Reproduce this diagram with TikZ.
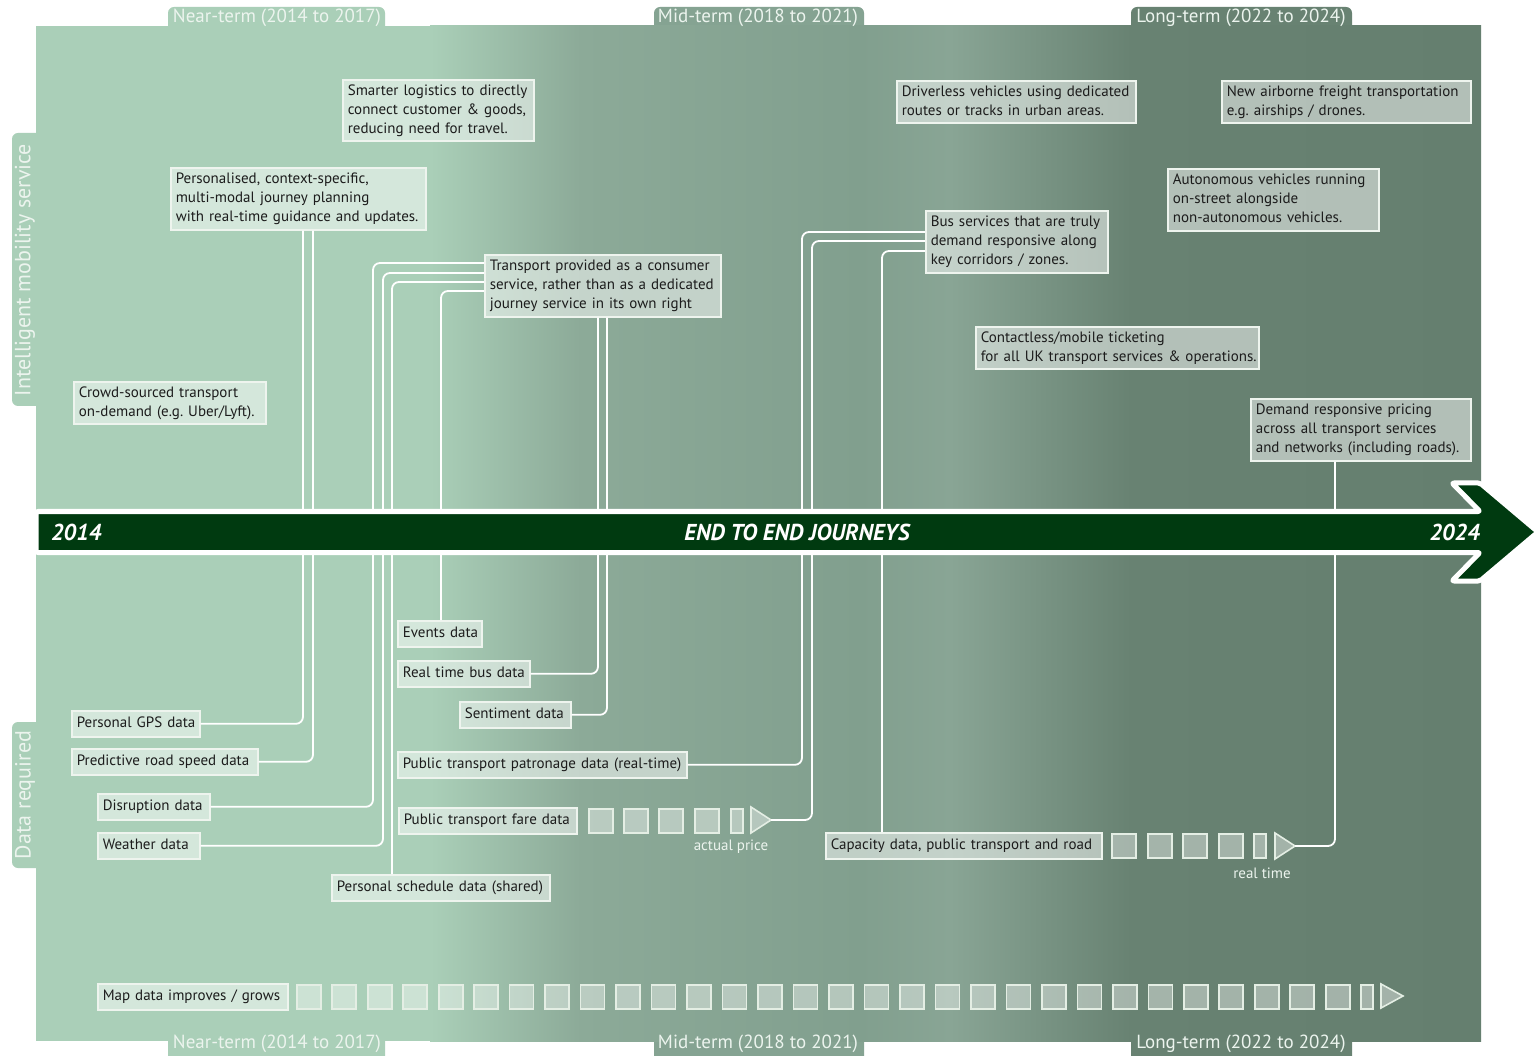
\documentclass[tikz,border=0pt]{standalone}
\usepackage{fontspec}
\setmainfont{PT Sans}
\frenchspacing
\newcommand{\bt}[1]{\makebox[\hsize][l]{\begin{tabular}{@{}l@{}}#1\end{tabular}}}
\definecolor{bgA}{RGB}{170,207,184}
\definecolor{bgB}{RGB}{140,170,152}
\definecolor{bgC}{RGB}{129,159,142}
\definecolor{bgD}{RGB}{137,165,149}
\definecolor{bgE}{RGB}{104,130,114}
\definecolor{bgF}{RGB}{101,127,111}
\definecolor{midtab}{RGB}{133,163,146}
\definecolor{bardark}{RGB}{0,58,16}
\definecolor{boxline}{RGB}{238,244,238}
\definecolor{sqline}{RGB}{228,238,228}
\definecolor{txt}{RGB}{28,28,28}
\definecolor{tabtxt}{RGB}{236,244,238}
\begin{document}
\begin{tikzpicture}[x=1pt,y=-1pt,
  bx/.style={draw=boxline, line width=1.6pt, fill=white, fill opacity=0.5, text opacity=1,
    text=txt, font=\fontsize{15}{19}\selectfont, align=left, inner xsep=5pt, inner ysep=2pt,
    anchor=north west},
  sq/.style={draw=sqline, line width=1.6pt, fill=white, fill opacity=0.4, minimum width=24pt,
    minimum height=24pt, inner sep=0pt, anchor=north west},
  nsq/.style={sq, minimum width=12pt},
  tri/.style={draw=sqline, line width=1.6pt, fill=white, fill opacity=0.4, line join=miter},
  conn/.style={draw=white, line width=1.8pt, rounded corners=7pt},
  tabtext/.style={text=tabtxt, font=\fontsize{19}{21}\selectfont, inner sep=0pt},
  sidetext/.style={text=tabtxt, font=\fontsize{22}{24}\selectfont, inner sep=0pt, rotate=90},
  note/.style={text=tabtxt, font=\fontsize{15}{17}\selectfont, inner sep=0pt},
  bartext/.style={text=white, font=\fontsize{23}{26}\selectfont\bfseries\itshape, inner sep=0pt}
]
\useasboundingbox (0,0) rectangle (1535,1056);
\fill[white] (0,0) rectangle (1535,1056);

% tabs
\fill[bgA, rounded corners=6pt] (168,7) rectangle (385,40);
\fill[midtab, rounded corners=6pt] (654,7) rectangle (864,40);
\fill[bgE, rounded corners=6pt] (1131,7) rectangle (1352,40);
\fill[bgA, rounded corners=6pt] (168,1020) rectangle (385,1070);
\fill[midtab, rounded corners=6pt] (654,1020) rectangle (864,1070);
\fill[bgE, rounded corners=6pt] (1131,1020) rectangle (1352,1070);
\fill[bgA, rounded corners=6pt] (12,133) rectangle (50,406);
\fill[bgA, rounded corners=6pt] (12,722) rectangle (50,868);

% panel
\fill[bgA] (36,26) rectangle (431,1041);
\shade[left color=bgA, right color=bgB] (430,26) rectangle (581,1041);
\shade[left color=bgB, right color=bgC] (580,26) rectangle (861,1041);
\shade[left color=bgC, right color=bgD] (860,26) rectangle (951,1041);
\shade[left color=bgD, right color=bgE] (950,26) rectangle (1131,1041);
\shade[left color=bgE, right color=bgF] (1130,26) rectangle (1481,1041);

% tab texts
\node[tabtext] (t1) at (277,18) {Near-term (2014 to 2017)};
\node[tabtext] (t2) at (758,18) {Mid-term (2018 to 2021)};
\node[tabtext] (t3) at (1241,18) {Long-term (2022 to 2024)};
\node[tabtext] (b1) at (277,1044) {Near-term (2014 to 2017)};
\node[tabtext] (b2) at (758,1044) {Mid-term (2018 to 2021)};
\node[tabtext] (b3) at (1241,1044) {Long-term (2022 to 2024)};
\node[sidetext] (s1) at (25,270) {Intelligent mobility service};
\node[sidetext] (s2) at (25,795) {Data required};

% boxes: top
\node[bx, text width=181pt, minimum height=61pt] (smart) at (342,79)
  {\bt{Smarter logistics to directly\\connect customer \& goods,\\reducing need for travel.}};
\node[bx, text width=245pt, minimum height=62pt] (pers) at (170,167)
  {\bt{Personalised, context-specific,\\multi-modal journey planning\\with real-time guidance and updates.}};
\node[bx, text width=226pt, minimum height=62pt] (trans) at (484,254)
  {\bt{Transport provided as a consumer\\service, rather than as a dedicated\\journey service in its own right}};
\node[bx, text width=182pt, minimum height=42pt] (crowd) at (73,381)
  {\bt{Crowd-sourced transport\\on-demand (e.g. Uber/Lyft).}};
\node[bx, text width=229pt, minimum height=42pt] (driver) at (896,80)
  {\bt{Driverless vehicles using dedicated\\routes or tracks in urban areas.}};
\node[bx, text width=239pt, minimum height=42pt] (air) at (1221,80)
  {\bt{New airborne freight transportation\\e.g. airships / drones.}};
\node[bx, text width=201pt, minimum height=62pt] (auto) at (1167,168)
  {\bt{Autonomous vehicles running\\on-street alongside\\non-autonomous vehicles.}};
\node[bx, text width=172pt, minimum height=62pt] (bus) at (925,210)
  {\bt{Bus services that are truly\\demand responsive along\\key corridors / zones.}};
\node[bx, text width=273pt, minimum height=42pt] (contact) at (975,326)
  {\bt{Contactless/mobile ticketing\\for all UK transport services \& operations.}};
\node[bx, text width=210pt, minimum height=62pt] (pricing) at (1250,398)
  {\bt{Demand responsive pricing\\across all transport services\\and networks (including roads).}};

% boxes: bottom
\node[bx, text width=74pt, minimum height=26pt] (events) at (397,620) {\bt{Events data}};
\node[bx, text width=122pt, minimum height=26pt] (rtbus) at (397,660) {\bt{Real time bus data}};
\node[bx, text width=101pt, minimum height=26pt] (sent) at (459,701) {\bt{Sentiment data}};
\node[bx, text width=118pt, minimum height=26pt] (gps) at (71,710) {\bt{Personal GPS data}};
\node[bx, text width=176pt, minimum height=26pt] (pred) at (71,748) {\bt{Predictive road speed data}};
\node[bx, text width=279pt, minimum height=26pt] (patr) at (397,751) {\bt{Public transport patronage data (real-time)}};
\node[bx, text width=102pt, minimum height=26pt] (disr) at (97,793) {\bt{Disruption data}};
\node[bx, text width=168pt, minimum height=26pt] (fare) at (398,807) {\bt{Public transport fare data}};
\node[bx, text width=92pt, minimum height=26pt] (weather) at (97,832) {\bt{Weather data}};
\node[bx, text width=208pt, minimum height=26pt] (sched) at (331,874) {\bt{Personal schedule data (shared)}};
\node[bx, text width=266pt, minimum height=26pt] (cap) at (825,832) {\bt{Capacity data, public transport and road}};
\node[bx, text width=180pt, minimum height=26pt] (map) at (97,983) {\bt{Map data improves / grows}};

% progress squares
\foreach \x [count=\i] in {588,623,658,694} { \node[sq] (fs\i) at (\x,808) {}; }
\node[nsq, minimum width=12pt] (fs5) at (730,808) {};
\draw[tri] (751,807) -- (771,820) -- (751,833) -- cycle;
\coordinate (fT) at (771,820);
\node[note] (fnote) at (731,847) {actual price};

\foreach \x [count=\i] in {1111,1147,1182,1218} { \node[sq] (cs\i) at (\x,833) {}; }
\node[nsq, minimum width=12pt] (cs5) at (1253,833) {};
\draw[tri] (1275,833) -- (1295,846) -- (1275,859) -- cycle;
\coordinate (cT) at (1295,846);
\node[note] (cnote) at (1262,873) {real time};

\foreach \i in {0,...,29} { \node[sq] (ms\i) at ({296+\i*35.48},984) {}; }
\node[nsq, minimum width=12pt] (msN) at (1360,984) {};
\draw[tri] (1381,984) -- (1403,996) -- (1381,1008) -- cycle;

% helper x positions
\coordinate (xa) at (373,0);
\coordinate (xb) at (383,0);
\coordinate (xc) at (392,0);
\coordinate (xd) at (441,0);
\coordinate (xe) at (802,0);
\coordinate (xf) at (812,0);
\coordinate (xg) at (882,0);

% connectors
\draw[conn] ([xshift=133pt]pers.south west) |- (gps.east);
\draw[conn] ([xshift=143pt]pers.south west) |- (pred.east);
\draw[conn] ([yshift=-9pt]trans.north west) -| (disr.east -| xa) -- (disr.east);
\draw[conn] ([yshift=-19pt]trans.north west) -| (weather.east -| xb) -- (weather.east);
\draw[conn] ([yshift=-28pt]trans.north west) -| (sched.north -| xc);
\draw[conn] ([yshift=-37pt]trans.north west) -| (events.north -| xd);
\draw[conn] ([xshift=114pt]trans.south west) |- (rtbus.east);
\draw[conn] ([xshift=123pt]trans.south west) |- (sent.east);
\draw[conn] ([yshift=-22pt]bus.north west) -| (patr.east -| xe) -- (patr.east);
\draw[conn] ([yshift=-31pt]bus.north west) -| (fT -| xf) -- (fT);
\draw[conn] ([yshift=-41pt]bus.north west) -| (cap.north -| xg);
\draw[conn] ([xshift=85pt]pricing.south west) |- (cT);

% main arrow
\draw[draw=white, line width=5pt, fill=bardark, line join=round, rounded corners=2pt]
  (36,511.5) -- (1480,511.5) -- (1452,483) -- (1480,483) -- (1538,532)
  -- (1480,581) -- (1452,581) -- (1480,552.5) -- (36,552.5) -- cycle;
\node[bartext, anchor=west] (y14) at (51,532) {2014};
\node[bartext] (endj) at (797,532) {END TO END JOURNEYS};
\node[bartext, anchor=east] (y24) at (1480,532) {2024};
\end{tikzpicture}
\end{document}
